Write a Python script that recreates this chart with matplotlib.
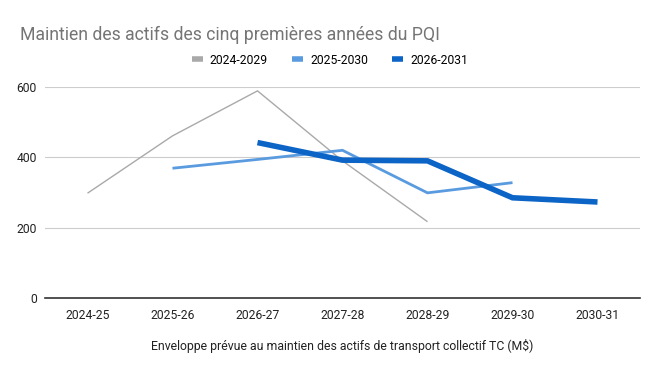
import matplotlib
matplotlib.use("Agg")
import matplotlib.pyplot as plt
import numpy as np

plt.rcParams['font.family'] = ['Roboto', 'DejaVu Sans']

categories = ["2024-25", "2025-26", "2026-27", "2027-28", "2028-29", "2029-30", "2030-31"]
s2024 = [298, 461, 589, 390, 217, None, None]
s2025 = [None, 369, 394, 420, 299, 328, None]
s2026 = [None, None, 442, 392, 390, 285, 273]
series_names = ["2024-2029", "2025-2030", "2026-2031"]
colors = ["#a9a9a9", "#5a9be0", "#0b64c6"]
widths = [1.0, 2.0, 4.0]

fig = plt.figure(figsize=(6.6, 3.71), dpi=100)
ax = fig.add_axes([45/660, 1-298/371, 595/660, (298-87)/371])

x = np.arange(len(categories))
for vals, name, c, lw in zip([s2024, s2025, s2026], series_names, colors, widths):
    xs = [xi for xi, v in zip(x, vals) if v is not None]
    ys = [v for v in vals if v is not None]
    ax.plot(xs, ys, color=c, lw=lw, label=name, solid_joinstyle='miter', solid_capstyle='butt')

ax.set_xlim(-0.5, len(categories)-0.5)
ax.set_ylim(0, 600)
ax.set_yticks([0, 200, 400, 600])
ax.set_xticks(x)
ax.set_xticklabels(categories)
ax.grid(axis='y', color='#cccccc', lw=0.8)
ax.set_axisbelow(True)
for s in ['top', 'right', 'left']:
    ax.spines[s].set_visible(False)
ax.spines['bottom'].set_color('#333333')
ax.spines['bottom'].set_linewidth(1.2)
ax.tick_params(axis='both', length=0, labelsize=8.7, colors='#222222')
ax.tick_params(axis='x', pad=8)
ax.tick_params(axis='y', pad=6)
ax.set_xlabel("Enveloppe prévue au maintien des actifs de transport collectif TC (M$)",
              fontsize=8.8, color='#222222', labelpad=12)

fig.text(20/660, 1-35/371, "Maintien des actifs des cinq premières années du PQI",
         fontsize=12.7, color='#757575', va='center', ha='left')

leg = fig.legend(loc='center', bbox_to_anchor=(0.5, 1-60/371), ncol=3, frameon=False,
                 fontsize=8.7, handlelength=0.9, handletextpad=0.6, columnspacing=2.0)
for h in leg.get_lines():
    h.set_linewidth(4)

fig.savefig("out.png", dpi=100)
